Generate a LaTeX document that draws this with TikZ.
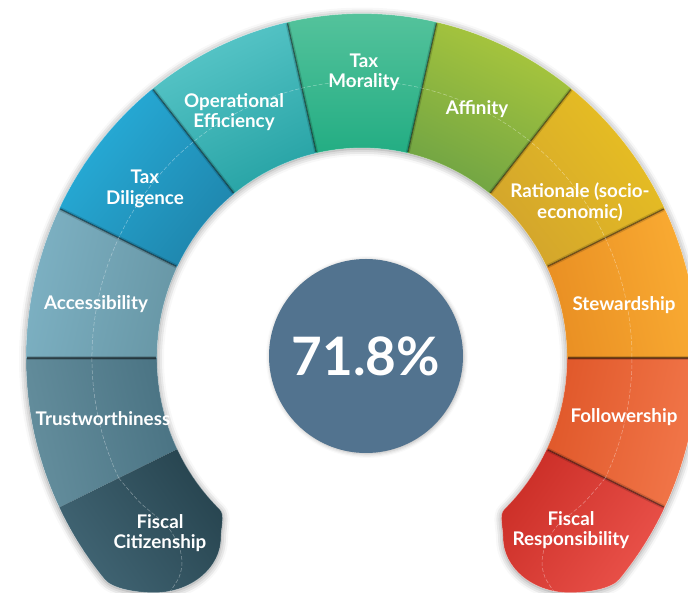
\documentclass[tikz,border=0pt]{standalone}
\usepackage{fontspec}
\setmainfont{Lato}
\usetikzlibrary{shadows.blur}

\definecolor{citIn}{HTML}{27444F}  \definecolor{citOut}{HTML}{416574}
\definecolor{truIn}{HTML}{4A7383}  \definecolor{truOut}{HTML}{648E9D}
\definecolor{accIn}{HTML}{6897A6}  \definecolor{accOut}{HTML}{7DB1C3}
\definecolor{dilIn}{HTML}{1F86AD}  \definecolor{dilOut}{HTML}{27AEDA}
\definecolor{effIn}{HTML}{27A3A5}  \definecolor{effOut}{HTML}{5AC7C9}
\definecolor{morIn}{HTML}{23AD83}  \definecolor{morOut}{HTML}{55C39C}
\definecolor{affIn}{HTML}{70A444}  \definecolor{affOut}{HTML}{ACC83C}
\definecolor{ratIn}{HTML}{D3A52C}  \definecolor{ratOut}{HTML}{E8C022}
\definecolor{steIn}{HTML}{E98F23}  \definecolor{steOut}{HTML}{FAAC33}
\definecolor{folIn}{HTML}{E0582A}  \definecolor{folOut}{HTML}{F2774A}
\definecolor{resIn}{HTML}{CB2E27}  \definecolor{resOut}{HTML}{EA524A}
\definecolor{scoreblue}{HTML}{52738F}

\newcommand{\ringoutline}{(226:205) arc[start angle=226, end angle=-46, radius=205]
  .. controls (136.6,-153) and (141,-165) .. (141,-175)
  .. controls (141,-205) and (171,-229) .. (208,-229)
  .. controls (225,-229) and (249.7,-225.2) .. (-40:336)
  arc[start angle=-40, end angle=220, radius=336]
  .. controls (-249.7,-225.2) and (-225,-229) .. (-208,-229)
  .. controls (-171,-229) and (-141,-205) .. (-141,-175)
  .. controls (-141,-165) and (-136.6,-153) .. (226:205) -- cycle}

\tikzset{
  seglabel/.style={text=white, font=\fontsize{18.8}{20.5}\selectfont\bfseries, align=center, inner sep=0pt},
  fold/.style={black, opacity=.45, line width=1.2pt},
  foldsoft/.style={black, opacity=.15, line width=4pt},
  midline/.style={white, opacity=.4, line width=.5pt, dash pattern=on 4pt off 2pt},
}

\begin{document}
\begin{tikzpicture}[x=1pt,y=1pt]
\useasboundingbox (0,0) rectangle (688,593);

\begin{scope}[shift={(362,235)}, yscale=1.025]
  \fill[white, blur shadow={shadow xshift=0pt, shadow yshift=-1pt, shadow blur radius=7pt, shadow opacity=45}] \ringoutline;
  \foreach \k/\ci/\co in {-1/truIn/truOut, 0/accIn/accOut, 1/dilIn/dilOut, 2/effIn/effOut,
                          3/morIn/morOut, 4/affIn/affOut, 5/ratIn/ratOut, 6/steIn/steOut, 7/folIn/folOut}{
    \pgfmathsetmacro\a{180-(\k+1)*180/7}
    \pgfmathsetmacro\b{180-\k*180/7}
    \pgfmathsetmacro\m{(\a+\b)/2-90}
    \shade[top color=\co, bottom color=\ci, shading angle=\m]
      (\a:205) -- (\a:336) arc[start angle=\a, end angle=\b, radius=336]
      -- (\b:205) arc[start angle=\b, end angle=\a, radius=205] -- cycle;
  }
  % end caps
  \shade[top color=resOut, bottom color=resIn, shading angle=-125]
    (-25.714:205) -- (-25.714:336) arc[start angle=-25.714, end angle=-40, radius=336]
    .. controls (249.7,-225.2) and (225,-229) .. (208,-229)
    .. controls (171,-229) and (141,-205) .. (141,-175)
    .. controls (141,-165) and (136.6,-153) .. (-46:205)
    arc[start angle=-46, end angle=-25.714, radius=205] -- cycle;
  \shade[top color=citOut, bottom color=citIn, shading angle=125]
    (205.714:205) -- (205.714:336) arc[start angle=205.714, end angle=220, radius=336]
    .. controls (-249.7,-225.2) and (-225,-229) .. (-208,-229)
    .. controls (-171,-229) and (-141,-205) .. (-141,-175)
    .. controls (-141,-165) and (-136.6,-153) .. (226:205)
    arc[start angle=226, end angle=205.714, radius=205] -- cycle;
  \foreach \k in {-1,...,7}{
    \pgfmathsetmacro\t{180-\k*180/7-180/7}
    \draw[foldsoft] (\t:206) -- (\t:335);
    \draw[fold] (\t:206) -- (\t:335);
  }
  \draw[midline] (205.714:270) arc[start angle=205.714, end angle=-25.714, radius=270];
  \draw[midline] plot[smooth] coordinates {(243.3,-117.1) (222,-141) (195,-164) (183,-184) (180,-200) (183,-214) (192,-228)};
  \draw[midline] plot[smooth] coordinates {(-243.3,-117.1) (-222,-141) (-195,-164) (-183,-184) (-180,-200) (-183,-214) (-192,-228)};
  \draw[white, opacity=.3, line width=.6pt] \ringoutline;
\end{scope}

\node[circle, fill=scoreblue, minimum size=194pt, inner sep=0pt, text=white,
      font=\fontsize{53}{53}\selectfont\bfseries,
      blur shadow={shadow xshift=1pt, shadow yshift=-1pt, shadow blur radius=4pt, shadow opacity=30}] (score) at (366,237) {71.8\%};

\node[seglabel] (morality)  at (364,520.5) {Tax\\Morality};
\node[seglabel] (efficiency) at (234,481) {Operational\\Efficiency};
\node[seglabel] (affinity)  at (477,483.5) {Affinity};
\node[seglabel] (diligence) at (145,404) {Tax\\Diligence};
\node[seglabel] (rationale) at (580,391) {Rationale (socio-\\economic)};
\node[seglabel] (access)    at (96,288.5)  {Accessibility};
\node[seglabel] (steward)   at (624,287.5) {Stewardship};
\node[seglabel] (trust)     at (103,174.5) {Trustworthiness};
\node[seglabel] (follow)    at (624,175.5) {Followership};
\node[seglabel] (citizen)   at (160,60)  {Fiscal\\Citizenship};
\node[seglabel] (respons)   at (571,63)  {Fiscal\\Responsibility};
\end{tikzpicture}
\end{document}
